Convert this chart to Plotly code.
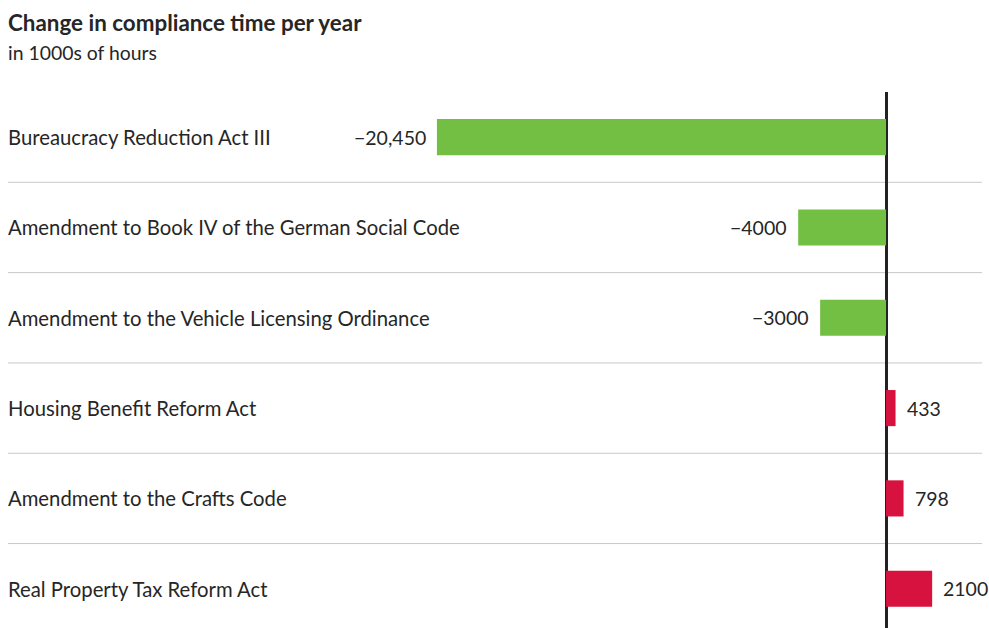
import plotly.graph_objects as go

categories = [
    "Bureaucracy Reduction Act III",
    "Amendment to Book IV of the German Social Code",
    "Amendment to the Vehicle Licensing Ordinance",
    "Housing Benefit Reform Act",
    "Amendment to the Crafts Code",
    "Real Property Tax Reform Act",
]
values = [-20450, -4000, -3000, 433, 798, 2100]
value_labels = ["\u221220,450", "\u22124000", "\u22123000", "433", "798", "2100"]

GREEN = "#72BF44"
RED = "#D7123F"
TEXT = "#262626"
FONT = "Lato"

colors = [GREEN if v < 0 else RED for v in values]
ypos = list(range(len(categories)))

fig = go.Figure()
fig.add_trace(go.Bar(
    x=values, y=ypos, orientation="h", width=0.4,
    marker=dict(color=colors, line=dict(width=0)),
    hoverinfo="skip",
))

fig.update_layout(
    width=989, height=628,
    margin=dict(l=8, r=7, t=92, b=0),
    paper_bgcolor="white", plot_bgcolor="white",
    showlegend=False,
    xaxis=dict(
        range=[-39980, 4370], showgrid=False, showticklabels=False, ticks="",
        zeroline=True, zerolinecolor="#222222", zerolinewidth=3, fixedrange=True,
    ),
    yaxis=dict(
        range=[5.435, -0.5], showgrid=False, showticklabels=False, ticks="",
        zeroline=False, fixedrange=True,
    ),
)

for i in range(len(categories) - 1):
    fig.add_shape(
        type="line", xref="paper", x0=0, x1=1, yref="y", y0=i + 0.5, y1=i + 0.5,
        line=dict(color="#C8C8C8", width=1), layer="below",
    )

for i, (cat, v, lab) in enumerate(zip(categories, values, value_labels)):
    fig.add_annotation(
        x=0, xref="paper", y=i, yref="y", text=cat, showarrow=False,
        xanchor="left", yanchor="middle", xshift=-2,
        font=dict(family=FONT, size=20.3, color=TEXT),
    )
    fig.add_annotation(
        x=v, xref="x", y=i, yref="y", text=lab, showarrow=False,
        xanchor="right" if v < 0 else "left", yanchor="middle",
        xshift=-9 if v < 0 else 9,
        font=dict(family=FONT, size=19.5, color=TEXT),
    )

fig.add_annotation(
    x=0, xref="paper", y=1, yref="paper", yanchor="middle", yshift=92 - 22, xshift=-2,
    text="<b>Change in compliance time per year</b>", showarrow=False, xanchor="left",
    font=dict(family=FONT, size=22.4, color=TEXT),
)
fig.add_annotation(
    x=0, xref="paper", y=1, yref="paper", yanchor="middle", yshift=92 - 52, xshift=-2,
    text="in 1000s of hours", showarrow=False, xanchor="left",
    font=dict(family=FONT, size=19.4, color=TEXT),
)

fig.write_html(
    "out.html",
    config={"displayModeBar": False, "staticPlot": True},
    post_script="document.body.style.margin='0';document.body.style.overflow='hidden';",
)
